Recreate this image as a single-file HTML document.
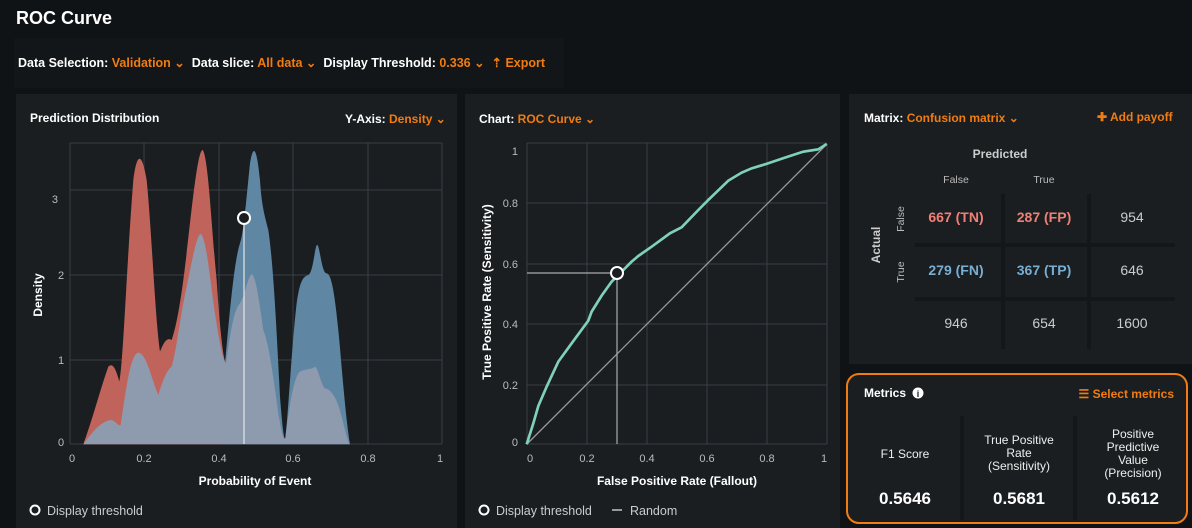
<!DOCTYPE html>
<html><head><meta charset="utf-8"><style>
body{margin:0;width:1192px;height:528px;background:#101315;font-family:"Liberation Sans",sans-serif;color:#fff;position:relative;overflow:hidden}
.a{position:absolute}
.o{color:#f07c12}
.p{background:#1a1e21}
.b{font-weight:bold}
</style></head><body>
<div class="a b" style="left:16px;top:8px;font-size:18px">ROC Curve</div>
<div class="a" style="left:14px;top:38px;width:550px;height:50px;background:#131618"></div>
<div class="a b" style="left:18px;top:55px;font-size:12.5px;white-space:nowrap">Data Selection: <span class="o">Validation ⌄</span>&nbsp; Data slice: <span class="o">All data ⌄</span>&nbsp; Display Threshold: <span class="o">0.336 ⌄ &nbsp;⇡ Export</span></div>

<div class="a p" style="left:16px;top:94px;width:441px;height:434px"></div>
<div class="a p" style="left:465px;top:94px;width:375px;height:434px"></div>
<div class="a p" style="left:849px;top:94px;width:343px;height:270px"></div>
<div class="a p" style="left:846px;top:373px;width:338px;height:147px;border:2px solid #f07c12;border-radius:13px"></div>

<div class="a b" style="left:30px;top:111px;font-size:12px">Prediction Distribution</div>
<div class="a b" style="left:345px;top:112px;font-size:12px">Y-Axis: <span class="o">Density ⌄</span></div>
<div class="a b" style="left:479px;top:112px;font-size:12px">Chart: <span class="o">ROC Curve ⌄</span></div>
<div class="a b" style="left:864px;top:111px;font-size:12px">Matrix: <span class="o">Confusion matrix ⌄</span></div>
<div class="a b o" style="left:1097px;top:110px;font-size:12px">✚ Add payoff</div>

<svg class="a" style="left:0;top:0" width="1192" height="528">
<g stroke="#3a3f43" stroke-width="1" fill="none">
<path d="M70,143V444M144,143V444M219,143V444M293,143V444M368,143V444M442,143V444M70,143H442M70,190H442M70,275H442M70,360H442M70,444H442"/>
<path d="M527,143V444M587,143V444M647,143V444M707,143V444M767,143V444M827,143V444M527,143H827M527,203H827M527,264H827M527,324H827M527,385H827M527,444H827"/>
</g>
<g transform="translate(20,130) scale(0.3333)">
<path fill="#c0645b" d="M190,943 C220,860 240,780 265,710 C275,700 285,705 298,755 C310,700 320,400 340,150 C350,70 365,60 380,150 C395,300 405,560 420,665 C430,640 440,620 455,630 C465,600 475,560 490,450 C510,300 530,60 548,60 C565,80 575,300 590,450 C600,600 610,690 618,700 L618,943Z"/>
<path fill="#5f87a3" d="M190,943 L615,943 L615,700 C625,600 640,400 660,340 C670,320 680,200 690,100 C700,40 710,50 720,150 C725,230 735,260 745,300 C760,400 770,600 780,800 C788,900 792,930 796,925 C805,850 815,650 830,520 C840,450 850,440 865,435 C880,430 885,340 892,345 C900,350 905,430 920,430 C935,430 945,500 955,600 C965,700 975,850 990,943 Z"/>
<path fill="#8e9aae" d="M190,943 C220,900 250,870 275,870 C290,875 295,890 302,885 C315,800 330,670 355,668 C380,670 395,750 415,795 C425,760 440,720 455,710 C470,660 480,560 500,470 C515,400 530,310 543,312 C560,330 570,450 585,550 C600,650 610,690 618,700 C630,620 640,540 660,520 C675,500 685,430 697,433 C710,450 720,530 730,600 C750,650 765,780 775,850 C785,910 790,930 796,925 C805,850 820,740 840,725 C860,715 875,720 885,710 C895,715 905,770 915,775 C940,780 955,820 965,860 C975,900 985,940 990,943 Z"/>
</g>
<line x1="244" y1="224" x2="244" y2="444" stroke="#e6e6e6" stroke-width="1.2"/>
<circle cx="244" cy="218" r="6" fill="#1a1e21" stroke="#fff" stroke-width="2"/>
<g fill="#bbb" font-size="11" font-family="Liberation Sans">
<text x="58" y="203" text-anchor="end">3</text><text x="58" y="279">2</text><text x="58" y="364">1</text><text x="58" y="446">0</text>
<text x="72" y="462" text-anchor="middle">0</text><text x="144" y="462" text-anchor="middle">0.2</text><text x="219" y="462" text-anchor="middle">0.4</text><text x="293" y="462" text-anchor="middle">0.6</text><text x="368" y="462" text-anchor="middle">0.8</text><text x="440" y="462" text-anchor="middle">1</text>
<text x="518" y="155" text-anchor="end">1</text><text x="518" y="207" text-anchor="end">0.8</text><text x="518" y="268" text-anchor="end">0.6</text><text x="518" y="328" text-anchor="end">0.4</text><text x="518" y="389" text-anchor="end">0.2</text><text x="518" y="446" text-anchor="end">0</text>
<text x="530" y="462" text-anchor="middle">0</text><text x="587" y="462" text-anchor="middle">0.2</text><text x="647" y="462" text-anchor="middle">0.4</text><text x="707" y="462" text-anchor="middle">0.6</text><text x="767" y="462" text-anchor="middle">0.8</text><text x="824" y="462" text-anchor="middle">1</text>
</g>
<g fill="#fff" font-size="12" font-weight="bold" font-family="Liberation Sans">
<text x="255" y="485" text-anchor="middle">Probability of Event</text>
<text transform="translate(42,295) rotate(-90)" text-anchor="middle">Density</text>
<text x="677" y="485" text-anchor="middle">False Positive Rate (Fallout)</text>
<text transform="translate(491,292) rotate(-90)" text-anchor="middle">True Positive Rate (Sensitivity)</text>
</g>
<line x1="527" y1="444" x2="827" y2="144" stroke="#999" stroke-width="1.3"/>
<path d="M527,273H617V444" fill="none" stroke="#aaa" stroke-width="1.2"/>
<g transform="translate(465,130) scale(0.3333)">
<path fill="none" stroke="#7fd1b9" stroke-width="8" d="M185,943 L205,880 220,828 245,770 280,695 320,640 370,572 380,545 410,497 440,455 480,415 500,395 520,378 560,350 615,310 650,292 700,240 730,210 790,152 830,128 860,115 900,103 960,83 1015,65 1060,58 1085,42"/>
</g>
<circle cx="617" cy="273" r="6" fill="#1a1e21" stroke="#fff" stroke-width="2"/>
<circle cx="35" cy="510" r="4.5" fill="none" stroke="#fff" stroke-width="2"/>
<circle cx="484" cy="510" r="4.5" fill="none" stroke="#fff" stroke-width="2"/>
<line x1="612" y1="510" x2="622" y2="510" stroke="#999" stroke-width="2"/>
<g fill="#ccc" font-size="12.5" font-family="Liberation Sans">
<text x="47" y="515">Display threshold</text><text x="496" y="515">Display threshold</text><text x="630" y="515">Random</text>
</g>
<g fill="#141719">
<rect x="1001" y="194" width="4" height="155"/><rect x="1087" y="194" width="4" height="155"/>
<rect x="915" y="243" width="260" height="4"/><rect x="915" y="297" width="260" height="4"/>
<rect x="960" y="416" width="4" height="104"/><rect x="1073" y="416" width="4" height="104"/>
</g>
<g font-family="Liberation Sans" text-anchor="middle">
<text x="1000" y="158" fill="#ccc" font-size="12" font-weight="bold">Predicted</text>
<text x="956" y="183" fill="#bbb" font-size="10.5">False</text><text x="1044" y="183" fill="#bbb" font-size="10.5">True</text>
<text transform="translate(880,245) rotate(-90)" fill="#ccc" font-size="12" font-weight="bold">Actual</text>
<text transform="translate(904,219) rotate(-90)" fill="#bbb" font-size="10.5">False</text>
<text transform="translate(904,272) rotate(-90)" fill="#bbb" font-size="10.5">True</text>
<g font-size="14" font-weight="bold">
<text x="956" y="222" fill="#f08075">667 (TN)</text><text x="1044" y="222" fill="#f08075">287 (FP)</text>
<text x="956" y="275" fill="#78aed2">279 (FN)</text><text x="1044" y="275" fill="#78aed2">367 (TP)</text></g>
<g font-size="14" fill="#ccc">
<text x="1132" y="222">954</text><text x="1132" y="275">646</text>
<text x="956" y="328">946</text><text x="1044" y="328">654</text><text x="1132" y="328">1600</text></g>
<text x="905" y="458" fill="#eee" font-size="12">F1 Score</text>
<text x="1019" y="444" fill="#eee" font-size="12">True Positive</text><text x="1019" y="457" fill="#eee" font-size="12">Rate</text><text x="1019" y="470" fill="#eee" font-size="12">(Sensitivity)</text>
<text x="1133" y="438" fill="#eee" font-size="12">Positive</text><text x="1133" y="451" fill="#eee" font-size="12">Predictive</text><text x="1133" y="464" fill="#eee" font-size="12">Value</text><text x="1133" y="477" fill="#eee" font-size="12">(Precision)</text>
<g font-size="17" font-weight="bold" fill="#fff"><text x="905" y="504">0.5646</text><text x="1019" y="504">0.5681</text><text x="1133" y="504">0.5612</text></g>
</g>
<text x="864" y="397" fill="#fff" font-size="12" font-weight="bold" font-family="Liberation Sans">Metrics</text>
<circle cx="918" cy="393" r="5.5" fill="#fff"/><text x="918" y="397" fill="#1a1e21" font-size="9" font-weight="bold" text-anchor="middle" font-family="Liberation Sans">i</text>
<text x="1174" y="398" fill="#f07c12" font-size="12" font-weight="bold" text-anchor="end" font-family="Liberation Sans">☰ Select metrics</text>
</svg>
</body></html>
